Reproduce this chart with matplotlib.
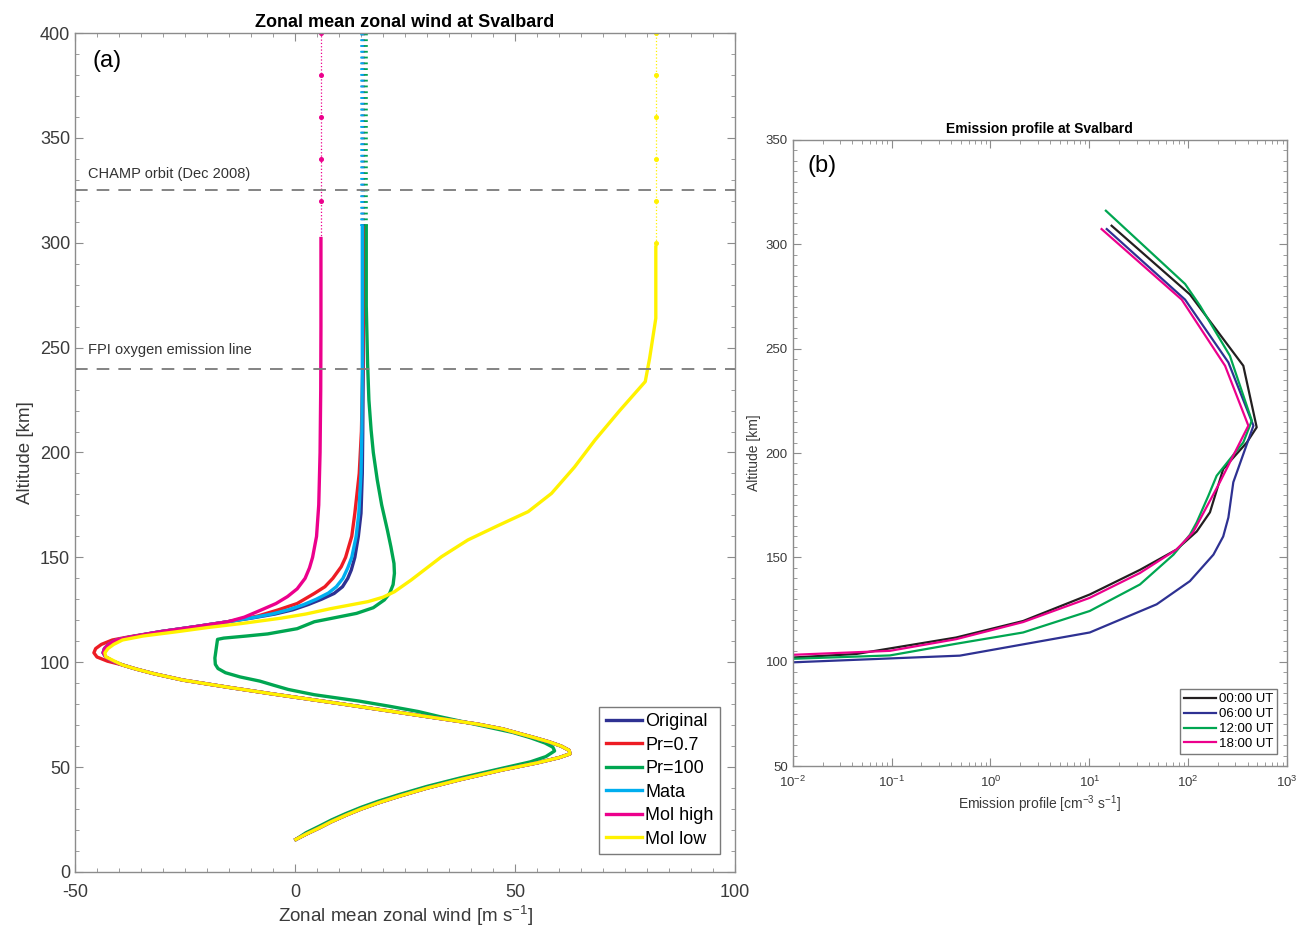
import matplotlib
matplotlib.use("Agg")
import matplotlib.pyplot as plt
from matplotlib.ticker import MultipleLocator, LogLocator, NullFormatter

plt.rcParams['font.family'] = ['Liberation Sans', 'DejaVu Sans']
plt.rcParams['mathtext.default'] = 'regular'
plt.rcParams['axes.unicode_minus'] = False

# ---- panel (a): zonal mean zonal wind ----
# shared lower branch (stratosphere / mesosphere), nearly identical for most runs
alt_lower = [15.5, 18, 21, 24, 27, 30, 33, 36, 40, 44, 48.6, 52, 54.5, 56.3, 58, 60, 62, 64, 66, 68.2,
             70.5, 72.5, 75, 77.5, 80, 82, 85, 88, 91.5, 94.5, 96.8, 98.7]
wind_lower = [0.2, 2.5, 5.5, 8.3, 11.5, 15.0, 19.0, 23.5, 30.0, 37.5, 47.0, 55.0, 60.0, 62.5, 62.3, 60.5, 57.8, 54.5, 51.0, 47.2,
              41.5, 35.0, 27.0, 19.0, 11.0, 4.4, -5.5, -15.0, -25.5, -32.0, -36.2, -39.2]

alt_orig = [100.5, 102.5, 104.5, 106.5, 108.5, 110.6, 112, 114.6, 117, 119.3, 121, 123, 125, 127.5, 130, 132.8,
            136, 140, 144, 150, 160, 171, 190, 210, 240, 270, 308]
wind_orig = [-41.4, -43.0, -43.6, -43.3, -42.4, -40.6, -37.5, -30.5, -22.5, -15.3, -10.0, -4.5, -0.5, 3.0, 6.0, 8.9,
             10.8, 12.0, 12.8, 13.6, 14.4, 15.0, 15.3, 15.4, 15.5, 15.5, 15.5]

alt_pr07 = [100.5, 102.5, 104.5, 106.5, 108.5, 110.6, 112, 114.6, 117, 119.3, 122, 124.9, 128, 132.8, 136, 140,
            145.5, 150, 160, 171, 190, 210, 240, 270, 308]
wind_pr07 = [-42.6, -45.0, -45.7, -45.3, -44.0, -41.5, -38.0, -30.5, -22.5, -15.3, -8.5, -3.9, 0.5, 4.4, 6.8, 8.6,
             10.5, 11.5, 12.9, 13.6, 14.6, 15.1, 15.4, 15.5, 15.5]

alt_mata = [100.5, 102.5, 104.5, 106.5, 108.5, 110.6, 112, 114.6, 117, 119.3, 121, 123, 125, 127.5, 130, 133,
            136, 140, 145, 150, 160, 171, 190, 210, 240, 270, 308]
wind_mata = [-41.4, -43.0, -43.6, -43.3, -42.4, -40.6, -37.5, -30.5, -22.5, -15.3, -10.3, -5.2, -1.5, 2.0, 4.8, 7.6,
             9.4, 10.9, 12.0, 12.9, 13.9, 14.5, 15.0, 15.2, 15.3, 15.3, 15.3]

alt_molhigh = [100.5, 102.5, 104.5, 106.5, 108.5, 110.6, 112, 114.6, 117, 119.3, 121.5, 124.9, 128, 131.3, 135,
               140, 145, 150, 160, 175, 200, 230, 260, 302]
wind_molhigh = [-41.4, -43.0, -43.6, -43.3, -42.4, -40.6, -37.5, -30.5, -22.5, -15.3, -11.5, -7.7, -4.3, -1.7, 0.5,
                2.3, 3.3, 4.0, 4.9, 5.4, 5.7, 5.85, 5.9, 5.9]

alt_mollow = [100.5, 102.6, 104.5, 106.5, 108.5, 110.6, 112.5, 114.5, 116.5, 118.5, 121, 123, 125.5, 128.9, 131,
              133.6, 139.2, 145, 150.3, 158.3, 165, 171.8, 180.5, 193, 206, 220, 233.8, 245, 264, 298]
wind_mollow = [-41.0, -43.0, -43.2, -42.5, -41.2, -39.2, -34.5, -27.0, -20.0, -12.0, -3.2, 2.5, 8.0, 16.6, 20.0,
               22.6, 26.4, 30.0, 33.3, 39.3, 46.0, 53.0, 58.3, 63.5, 68.2, 73.8, 79.6, 80.6, 82.0, 82.0]

alt_pr100 = [15.5, 18.7, 21.8, 24.8, 27.8, 30.8, 33.8, 36.8, 40.8, 44.8, 49.4, 52.5, 55, 57.7, 59.5, 61.5, 64, 66.5, 69,
             71.5, 74, 76.5, 79, 81.5, 84.5, 87, 89, 91, 93, 95, 97, 99, 102, 105, 108, 110.9, 111.5,
             112.5, 113.5, 116, 119.3, 121, 123.3, 126, 129.7, 132.8, 137, 142.4, 147.1, 155, 163, 175,
             186.9, 200, 210.7, 225, 242.5, 270, 308]
wind_pr100 = [0.2, 2.5, 5.5, 8.3, 11.5, 15.0, 19.0, 23.5, 30.0, 37.5, 47.0, 53.5, 57.0, 59.0, 58.6, 56.8, 53.5, 49.5, 44.0,
              38.5, 33.0, 28.0, 21.5, 14.5, 4.4, -1.5, -4.8, -8.0, -12.5, -15.8, -17.5, -18.1, -18.2, -18.0, -17.8, -17.6, -16.2,
              -11.0, -6.2, 0.5, 4.4, 8.5, 14.0, 17.8, 20.3, 21.5, 22.3, 22.6, 22.5, 21.8, 21.0, 19.7,
              18.7, 17.8, 17.3, 16.8, 16.5, 16.2, 16.2]

# dotted continuation above the model top
alt_ext = [308, 400]
wind_ext_orig = [15.5, 15.5]
wind_ext_mata = [15.3, 15.3]
wind_ext_pr100 = [16.2, 16.2]
alt_ext_molhigh = [302, 320, 340, 360, 380, 400]
wind_ext_molhigh = [5.9, 5.9, 5.9, 5.9, 5.9, 5.9]
alt_ext_mollow = [298, 300, 320, 340, 360, 380, 400]
wind_ext_mollow = [82.0, 82.0, 82.0, 82.0, 82.0, 82.0, 82.0]

champ_alt = 325
fpi_alt = 240

# ---- panel (b): emission profile ----
alt_00 = [102, 103.7, 111.6, 119.5, 132.2, 144, 153.7, 162.4, 171.6, 192.3, 205, 212.3, 241.8, 276, 308.9]
em_00 = [0.01, 0.044, 0.45, 2.14, 10.1, 32.5, 76, 122, 166, 226, 391, 493, 361, 104, 16.8]

alt_06 = [99.7, 102.9, 114, 127.5, 138.6, 151.3, 160, 169.1, 186, 213.1, 243.4, 273.5, 307.3]
em_06 = [0.01, 0.49, 10.1, 48, 104, 180, 226, 255, 286, 457, 255, 93, 15]

alt_12 = [101.4, 103, 108.6, 114, 124.3, 137, 151.3, 160.8, 166.8, 179.5, 189.1, 205.1, 215.5, 246.6, 270.5, 281, 316.1]
em_12 = [0.01, 0.096, 0.45, 2.14, 10.1, 32.5, 71, 104, 122, 160, 194, 361, 440, 264, 132, 93, 14.7]

alt_18 = [103.3, 105.2, 110.8, 119, 130.6, 142.5, 153.7, 162, 186, 213.1, 241.8, 273.5, 307.3]
em_18 = [0.01, 0.096, 0.45, 2.14, 10.1, 32.5, 76, 112, 209, 406, 236, 86, 13.3]

c_orig = '#2e3192'
c_red = '#ed1c24'
c_green = '#00a651'
c_cyan = '#00aeef'
c_mag = '#ec008c'
c_yel = '#fff200'
c_black = '#231f20'
spine_c = '#8c8c8c'
tick_c = '#3a3a3a'

fig = plt.figure(figsize=(13.06, 9.30), dpi=100)
ax1 = fig.add_axes([0.0574, 0.0624, 0.5054, 0.9021])
ax2 = fig.add_axes([0.607, 0.1763, 0.3785, 0.6732])


def style_axes(ax, fs):
    for s in ax.spines.values():
        s.set_color(spine_c)
        s.set_linewidth(1.0)
    ax.tick_params(which='both', direction='in', top=True, right=True,
                   color=spine_c, labelcolor=tick_c, labelsize=fs)
    ax.tick_params(which='major', length=6)
    ax.tick_params(which='minor', length=3)


# panel (a)
lw = 2.4
ax1.plot(wind_lower + wind_orig, alt_lower + alt_orig, color=c_orig, lw=lw, label='Original')
ax1.plot(wind_lower + wind_pr07, alt_lower + alt_pr07, color=c_red, lw=lw, label='Pr=0.7')
ax1.plot(wind_pr100, alt_pr100, color=c_green, lw=lw, label='Pr=100')
ax1.plot(wind_lower + wind_mata, alt_lower + alt_mata, color=c_cyan, lw=lw, label='Mata')
ax1.plot(wind_lower + wind_molhigh, alt_lower + alt_molhigh, color=c_mag, lw=lw, label='Mol high')
ax1.plot(wind_lower + wind_mollow, alt_lower + alt_mollow, color=c_yel, lw=lw, label='Mol low')

dash = (0, (0.5, 1.1))
ax1.plot(wind_ext_orig, alt_ext, color=c_orig, lw=2.6, ls=dash, dash_capstyle='butt')
ax1.plot(wind_ext_mata, alt_ext, color=c_cyan, lw=2.6, ls=dash, dash_capstyle='butt')
ax1.plot(wind_ext_pr100, alt_ext, color=c_green, lw=2.6, ls=dash, dash_capstyle='butt')
ax1.plot(wind_ext_molhigh, alt_ext_molhigh, color=c_mag, lw=0.9, ls=':',
         marker='o', ms=2.6, markevery=slice(1, None))
ax1.plot(wind_ext_mollow, alt_ext_mollow, color=c_yel, lw=0.9, ls=':',
         marker='o', ms=2.6, markevery=slice(1, None))

ax1.axhline(champ_alt, color='#7a7a7a', lw=1.3, ls=(0, (7, 5)))
ax1.axhline(fpi_alt, color='#7a7a7a', lw=1.3, ls=(0, (7, 5)))
ax1.text(-47, 333, 'CHAMP orbit (Dec 2008)', fontsize=10.5, color='#333333', va='center')
ax1.text(-47, 249, 'FPI oxygen emission line', fontsize=10.5, color='#333333', va='center')
ax1.text(0.026, 0.967, '(a)', transform=ax1.transAxes, fontsize=17, va='center', ha='left')

ax1.set_xlim(-50, 100)
ax1.set_ylim(0, 400)
ax1.xaxis.set_major_locator(MultipleLocator(50))
ax1.xaxis.set_minor_locator(MultipleLocator(5))
ax1.yaxis.set_major_locator(MultipleLocator(50))
ax1.yaxis.set_minor_locator(MultipleLocator(10))
style_axes(ax1, 13)
ax1.tick_params(axis='x', pad=9)
ax1.set_title('Zonal mean zonal wind at Svalbard', fontsize=13, fontweight='bold', pad=4)
ax1.set_xlabel('Zonal mean zonal wind [m s$^{-1}$]', fontsize=13.5, color=tick_c, labelpad=2)
ax1.set_ylabel('Altitude [km]', fontsize=13.5, color=tick_c, labelpad=4)

leg1 = ax1.legend(loc='lower right', bbox_to_anchor=(0.983, 0.017), fontsize=13,
                  handlelength=2.0, handletextpad=0.2, labelspacing=0.36,
                  borderpad=0.35, borderaxespad=0.2, fancybox=False, framealpha=1)
leg1.get_frame().set_edgecolor('#7a7a7a')
leg1.get_frame().set_linewidth(1.0)

# panel (b)
lw2 = 1.6
ax2.plot(em_00, alt_00, color=c_black, lw=lw2, label='00:00 UT')
ax2.plot(em_06, alt_06, color=c_orig, lw=lw2, label='06:00 UT')
ax2.plot(em_12, alt_12, color=c_green, lw=lw2, label='12:00 UT')
ax2.plot(em_18, alt_18, color=c_mag, lw=lw2, label='18:00 UT')

ax2.set_xscale('log')
ax2.set_xlim(1e-2, 1e3)
ax2.set_ylim(50, 350)
ax2.xaxis.set_major_locator(LogLocator(base=10, numticks=10))
ax2.xaxis.set_minor_locator(LogLocator(base=10, subs=range(2, 10), numticks=20))
ax2.xaxis.set_minor_formatter(NullFormatter())
ax2.yaxis.set_major_locator(MultipleLocator(50))
ax2.yaxis.set_minor_locator(MultipleLocator(5))
style_axes(ax2, 9.5)
ax2.tick_params(axis='x', pad=6)
ax2.text(0.03, 0.958, '(b)', transform=ax2.transAxes, fontsize=17, va='center', ha='left')
ax2.set_title('Emission profile at Svalbard', fontsize=10, fontweight='bold', pad=5)
ax2.set_xlabel('Emission profile [cm$^{-3}$ s$^{-1}$]', fontsize=10, color=tick_c, labelpad=3)
ax2.set_ylabel('Altitude [km]', fontsize=10, color=tick_c, labelpad=3)

leg2 = ax2.legend(loc='lower right', bbox_to_anchor=(0.985, 0.015), fontsize=9.5,
                  handlelength=2.4, handletextpad=0.2, labelspacing=0.2,
                  borderpad=0.3, borderaxespad=0.2, fancybox=False, framealpha=1)
leg2.get_frame().set_edgecolor('#7a7a7a')
leg2.get_frame().set_linewidth(1.0)

fig.savefig('out.png', dpi=100)
